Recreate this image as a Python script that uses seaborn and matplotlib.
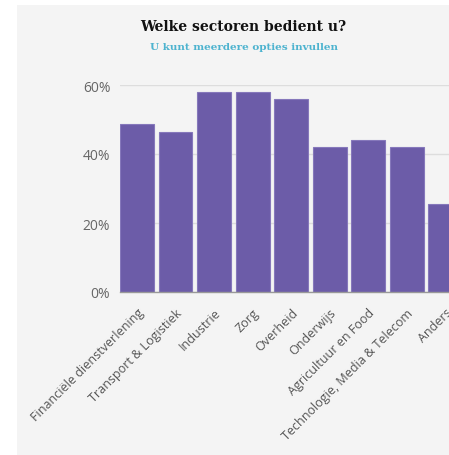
import matplotlib
matplotlib.use("Agg")
import matplotlib.pyplot as plt
import matplotlib.ticker as mtick
from matplotlib.patches import Rectangle
import seaborn as sns
import pandas as pd

# Data
sectors = [
    "Financiële dienstverlening",
    "Transport & Logistiek",
    "Industrie",
    "Zorg",
    "Overheid",
    "Onderwijs",
    "Agricultuur en Food",
    "Technologie, Media & Telecom",
    "Anders",
]
shares = [0.488, 0.465, 0.581, 0.581, 0.558, 0.419, 0.442, 0.419, 0.256]

title = "Welke sectoren bedient u?"
subtitle = "U kunt meerdere opties invullen"

df = pd.DataFrame({"sector": sectors, "share": shares})

sns.set_style("white")
plt.rcParams["font.family"] = ["Open Sans", "DejaVu Sans"]

W, H = 449, 456
fig = plt.figure(figsize=(W / 100, H / 100), dpi=100)
fig.patch.set_facecolor("white")

# grey card behind the chart
fig.patches.append(Rectangle((17 / W, 0), 1 - 17 / W, 1 - 6 / H,
                             transform=fig.transFigure, facecolor="#f4f4f4",
                             edgecolor="none", zorder=-10))

ax = fig.add_axes([120 / W, 163 / H, 383 / W, 207 / H])
ax.set_facecolor("none")

sns.barplot(data=df, x="sector", y="share", color="#6c5ca8", width=0.88,
            edgecolor="#8678bb", linewidth=0.8, saturation=1, ax=ax, zorder=3)

ax.set_ylim(0, 0.6)
ax.set_xlim(-0.44, 9.5)
ax.set_yticks([0, 0.2, 0.4, 0.6])
ax.yaxis.set_major_formatter(mtick.PercentFormatter(1.0, decimals=0))
ax.grid(axis="y", color="#dddddd", linewidth=1, zorder=0)
ax.set_axisbelow(True)

for side in ["top", "right", "left"]:
    ax.spines[side].set_visible(False)
ax.spines["bottom"].set_color("#999999")
ax.spines["bottom"].set_linewidth(1)
ax.spines["bottom"].set_zorder(4)

ax.tick_params(axis="y", length=0, pad=7, labelsize=10, labelcolor="#666666")
ax.tick_params(axis="x", length=0, pad=10, labelsize=9, labelcolor="#555555")
plt.setp(ax.get_xticklabels(), rotation=45, ha="right", rotation_mode="anchor")
ax.set_xlabel("")
ax.set_ylabel("")

fig.text(243 / W, 1 - 27 / H, title, ha="center", va="center",
         fontsize=10, fontweight="bold", family="DejaVu Serif", color="#111111")
fig.text(244 / W, 1 - 47 / H, subtitle, ha="center", va="center",
         fontsize=7.5, fontweight="bold", family="DejaVu Serif", color="#4db3cf")

fig.savefig("out.png", dpi=100)
